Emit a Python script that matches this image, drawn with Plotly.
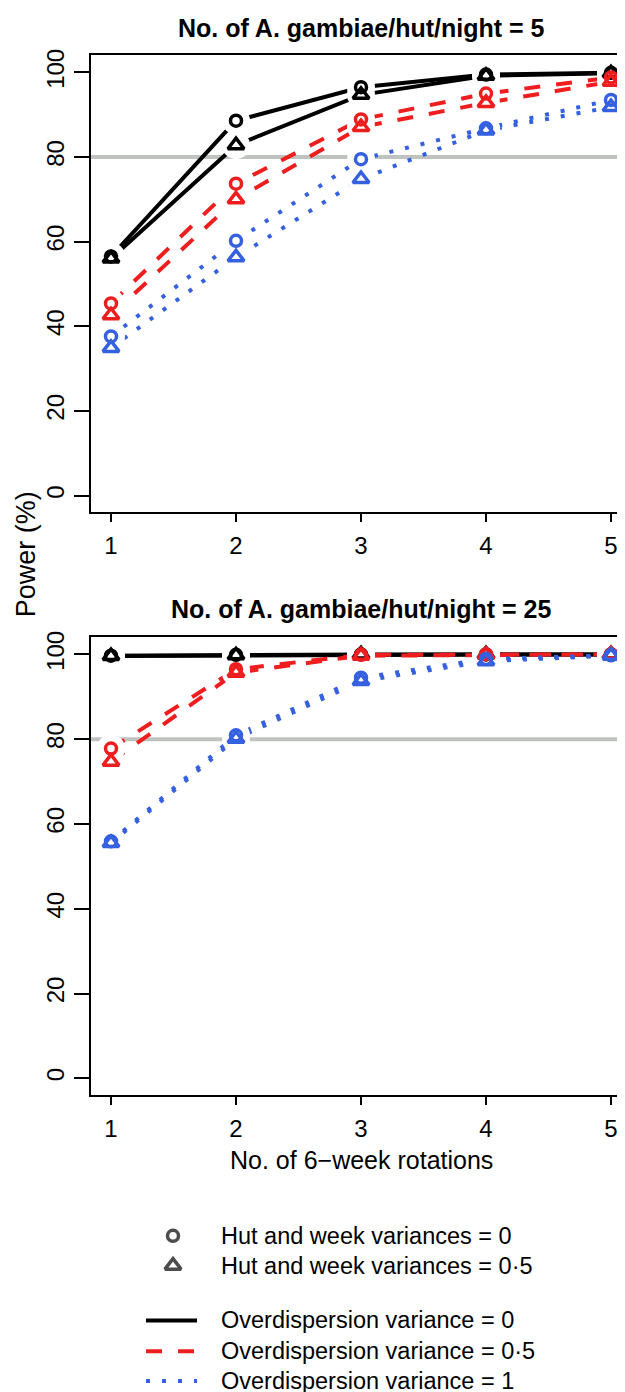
import plotly.graph_objects as go

# ---------------- data ----------------
rotations = [1, 2, 3, 4, 5]
x_tick_labels = ["1", "2", "3", "4", "5"]
y_tick_vals = [0, 20, 40, 60, 80, 100]

# Panel A: 5 A. gambiae / hut / night
p5_hw0_od0 = [56.5, 88.6, 96.5, 99.5, 99.9]
p5_hw0_od05 = [45.4, 73.7, 88.9, 95.0, 98.8]
p5_hw0_od1 = [37.6, 60.2, 79.5, 86.8, 93.5]
p5_hw05_od0 = [56.0, 82.8, 94.7, 99.2, 99.8]
p5_hw05_od05 = [42.6, 70.0, 87.1, 92.8, 97.8]
p5_hw05_od1 = [34.9, 56.3, 74.8, 86.3, 91.8]

# Panel B: 25 A. gambiae / hut / night
p25_hw0_od0 = [99.7, 99.9, 100.0, 100.0, 100.0]
p25_hw0_od05 = [77.8, 96.5, 99.9, 100.0, 100.0]
p25_hw0_od1 = [55.9, 80.9, 94.5, 98.9, 99.8]
p25_hw05_od0 = [99.6, 99.8, 100.0, 100.0, 100.0]
p25_hw05_od05 = [74.7, 95.7, 99.7, 99.9, 100.0]
p25_hw05_od1 = [55.5, 80.1, 93.7, 98.4, 99.7]

target_power = 80

panel_titles = ["No. of A. gambiae/hut/night = 5", "No. of A. gambiae/hut/night = 25"]
x_title = "No. of 6\u2212week rotations"
y_title = "Power (%)"
legend_marker_labels = ["Hut and week variances = 0", "Hut and week variances = 0\u00b75"]
legend_line_labels = ["Overdispersion variance = 0", "Overdispersion variance = 0\u00b75",
                      "Overdispersion variance = 1"]

# ---------------- styles ----------------
W, H = 625, 1392
FONT = "Liberation Sans, Arial, sans-serif"
BLACK = "#000000"
RED = "#EE1E1E"
BLUE = "#3560E0"
GREY = "#BFC3BF"
LW = 4
DASHES = ["solid", "16px,16px", "4px,12px"]
COLORS = [BLACK, RED, BLUE]
SYMBOLS = ["circle-open", "triangle-up-open"]
SIZES = [11, 14]


def px(x):
    return x / W


def py(y):
    return 1 - y / H


panels = [
    {"hw0": [p5_hw0_od0, p5_hw0_od05, p5_hw0_od1],
     "hw05": [p5_hw05_od0, p5_hw05_od05, p5_hw05_od1],
     "top": 40.7, "bottom": 500.0, "title_y": 13},
    {"hw0": [p25_hw0_od0, p25_hw0_od05, p25_hw0_od1],
     "hw05": [p25_hw05_od0, p25_hw05_od05, p25_hw05_od1],
     "top": 625.6, "bottom": 1085.7, "title_y": 597},
]
BOX_L, BOX_R = 83, 623

fig = go.Figure()
annotations = []
shapes = []

for i, pan in enumerate(panels):
    xa = "x" if i == 0 else "x2"
    ya = "y" if i == 0 else "y2"
    groups = [pan["hw0"], pan["hw05"]]
    # lines
    for k in range(3):
        for g in range(2):
            fig.add_trace(go.Scatter(x=rotations, y=groups[g][k], mode="lines",
                                     line=dict(color=COLORS[k], width=LW, dash=DASHES[k]),
                                     xaxis=xa, yaxis=ya, hoverinfo="skip"))
    # gaps around points (type = "b")
    for k in range(3):
        for g in range(2):
            fig.add_trace(go.Scatter(x=rotations, y=groups[g][k], mode="markers",
                                     marker=dict(symbol="circle", size=28, color="white",
                                                 line=dict(width=0)),
                                     xaxis=xa, yaxis=ya, hoverinfo="skip"))
    # points
    for k in range(3):
        for g in range(2):
            fig.add_trace(go.Scatter(x=rotations, y=groups[g][k], mode="markers",
                                     marker=dict(symbol=SYMBOLS[g], size=SIZES[g], color=COLORS[k],
                                                 line=dict(width=3.5, color=COLORS[k])),
                                     xaxis=xa, yaxis=ya))
    shapes.append(dict(type="line", xref=f"{xa} domain", yref=ya, x0=0, x1=1,
                       y0=target_power, y1=target_power,
                       line=dict(color=GREY, width=4), layer="below"))
    annotations.append(dict(text=f"<b>{panel_titles[i]}</b>", xref="paper", yref="paper",
                            x=px((BOX_L + BOX_R) / 2), y=py(pan["title_y"]),
                            xanchor="center", yanchor="middle", showarrow=False,
                            font=dict(family=FONT, size=25, color="black")))

axis_common = dict(showline=True, mirror=True, linecolor="black", linewidth=2,
                   ticks="outside", tickwidth=2, tickcolor="black",
                   showgrid=False, zeroline=False, fixedrange=True,
                   tickfont=dict(family=FONT, size=24, color="black"))

layout_axes = {}
for i, pan in enumerate(panels):
    sx = "" if i == 0 else "2"
    layout_axes[f"xaxis{sx}"] = dict(axis_common, domain=[px(BOX_L), px(BOX_R)],
                                     range=[0.84, 5.16], tickvals=rotations,
                                     ticktext=x_tick_labels, ticklen=8,
                                     ticklabelstandoff=3, anchor=f"y{sx}")
    layout_axes[f"yaxis{sx}"] = dict(axis_common, domain=[py(pan["bottom"]), py(pan["top"])],
                                     range=[-4, 104], tickvals=y_tick_vals, ticklen=15,
                                     tickangle=-90, anchor=f"x{sx}")

# legend area (own hidden axes in pixel units)
layout_axes["xaxis3"] = dict(domain=[0, 1], range=[0, W], visible=False, fixedrange=True,
                             anchor="y3")
layout_axes["yaxis3"] = dict(domain=[0, py(1190)], range=[H, 1190], visible=False,
                             fixedrange=True, anchor="x3")

LEG_SYM_X = 165
LEG_LINE_X = [138, 189]
LEG_TEXT_X = 212
LEG_MARK_Y = [1227, 1257]
LEG_LINE_Y = [1312, 1343, 1373]

fig.add_trace(go.Scatter(x=[LEG_SYM_X, LEG_SYM_X], y=LEG_MARK_Y, mode="markers",
                         marker=dict(symbol=SYMBOLS, size=SIZES, color=BLACK,
                                     line=dict(width=3.5, color=BLACK)),
                         xaxis="x3", yaxis="y3", hoverinfo="skip"))
for k in range(3):
    fig.add_trace(go.Scatter(x=LEG_LINE_X, y=[LEG_LINE_Y[k]] * 2, mode="lines",
                             line=dict(color=COLORS[k], width=LW, dash=DASHES[k]),
                             xaxis="x3", yaxis="y3", hoverinfo="skip"))
for lab, yy in zip(legend_marker_labels + legend_line_labels, LEG_MARK_Y + LEG_LINE_Y):
    annotations.append(dict(text=lab, xref="x3", yref="y3", x=LEG_TEXT_X, y=yy,
                            xanchor="left", yanchor="middle", showarrow=False,
                            borderpad=0,
                            font=dict(family=FONT, size=23.5, color="black")))

annotations.append(dict(text=x_title, xref="paper", yref="paper",
                        x=px((BOX_L + BOX_R) / 2), y=py(1151), xanchor="center",
                        yanchor="middle", showarrow=False,
                        font=dict(family=FONT, size=25, color="black")))
annotations.append(dict(text=y_title, xref="paper", yref="paper", x=px(18), y=py(542),
                        xanchor="center", yanchor="middle", textangle=-90, showarrow=False,
                        font=dict(family=FONT, size=27, color="black")))

fig.update_layout(width=W, height=H, margin=dict(l=0, r=0, t=0, b=0),
                  paper_bgcolor="white", plot_bgcolor="white", showlegend=False,
                  annotations=annotations, shapes=shapes, **layout_axes)

fig.write_html("out.html")
